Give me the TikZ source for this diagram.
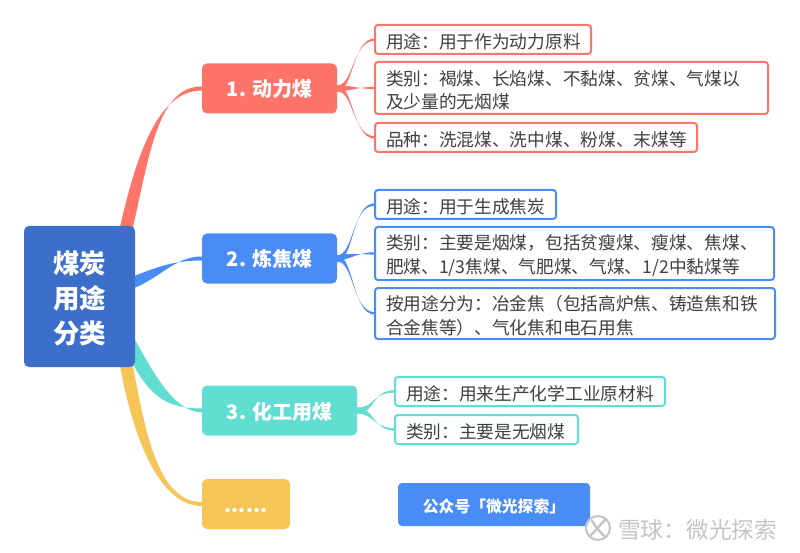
\documentclass[tikz,border=0pt]{standalone}
\usepackage{fontspec}
\setmainfont{Noto Sans CJK SC}
\usetikzlibrary{calc,backgrounds}
\definecolor{cred}{HTML}{FF7468}
\definecolor{cblue}{HTML}{4A8CF5}
\definecolor{croot}{HTML}{3B6FC9}
\definecolor{cteal}{HTML}{62DDD2}
\definecolor{cyel}{HTML}{F6C557}
\definecolor{ctext}{HTML}{404040}
\definecolor{cwm}{HTML}{C4C4C4}
\tikzset{
  boxbase/.style={anchor=north west,rounded corners=5,inner sep=0,outer sep=0,align=center},
  rootbox/.style={boxbase,fill=croot,text=white,font=\fontsize{26.5}{35}\selectfont\bfseries,minimum width=111,minimum height=141},
  mainbox/.style={boxbase,fill=#1,text=white,font=\fontsize{20}{24}\selectfont\bfseries,minimum height=50,text height=19,text depth=2},
  leafbox/.style={anchor=north west,draw=#1,line width=2,rounded corners=3,inner xsep=11,inner ysep=0,outer sep=0,fill=white,text=ctext,align=left,font=\fontsize{17.7}{23.6}\selectfont},
  badgebox/.style={boxbase,fill=cblue,text=white,font=\fontsize{15.8}{18}\selectfont\bfseries,minimum width=192,minimum height=43,rounded corners=4,text height=16,text depth=1},
  wmark/.style={text=cwm,font=\fontsize{22.7}{24}\selectfont,inner sep=0,anchor=west},
}
% from, to, colour, start half-offset, end half-thickness, control 1, control 2
\newcommand\taperlink[7]{%
  \fill[#3] ($(#1)+(#4)$) .. controls ($(#6)+(#4)$) and ($(#7)+(0,-#5)$) .. ($(#2)+(0,-#5)$)
    -- ($(#2)+(0,#5)$) .. controls ($(#7)+(0,#5)$) and ($(#6)-(#4)$) .. ($(#1)-(#4)$) -- cycle;}
\newcommand\leaf[7]{% name,colour,x,y,w,h,text
  \node[leafbox=#2,text width=#5pt-24pt,minimum height=#6-2] (#1) at (#3+1,#4+1)
    {\rule{0pt}{19.5pt}#7};}
\begin{document}
\begin{tikzpicture}[x=1pt,y=-1pt]
\useasboundingbox (0,0) rectangle (800,553);
\node[rootbox] (root) at (24,226) {\rule{0pt}{26pt}煤炭\\用途\\分类};
\node[mainbox=cred,minimum width=135] (n1) at (202,63.5) {1. 动力煤};
\node[mainbox=cblue,minimum width=135] (n2) at (202,233.5) {2. 炼焦煤};
\node[mainbox=cteal,minimum width=155] (n3) at (202,385.5) {3. 化工用煤};
\node[mainbox=cyel,minimum width=88] (n4) at (202,479) {......};
\leaf{a1}{cred}{374}{24}{218}{31}{用途：用于作为动力原料}
\leaf{a2}{cred}{374}{61}{395}{54}{类别：褐煤、长焰煤、不黏煤、贫煤、气煤以\\及少量的无烟煤}
\leaf{a3}{cred}{374}{122}{324}{31}{品种：洗混煤、洗中煤、粉煤、末煤等}
\leaf{b1}{cblue}{374}{189}{183}{31}{用途：用于生成焦炭}
\leaf{b2}{cblue}{374}{226}{401}{55}{类别：主要是烟煤，包括贫瘦煤、瘦煤、焦煤、\\肥煤、1/3焦煤、气肥煤、气煤、1/2中黏煤等}
\leaf{b3}{cblue}{374}{287}{402}{53}{按用途分为：冶金焦（包括高炉焦、铸造焦和铁\\合金焦等）、气化焦和电石用焦}
\leaf{c1}{cteal}{394}{376}{272}{31}{用途：用来生产化学工业原材料}
\leaf{c2}{cteal}{394}{414}{185}{31}{类别：主要是无烟煤}
\node[badgebox] (badge) at (398,483) {公众号「微光探索」};
\begin{scope}[on background layer]
\coordinate (r1) at ($(root.north east)+(-8.5,1)$);
\coordinate (r2) at ($(root.east)+(-1,-14.5)$);
\coordinate (r3) at ($(root.east)+(-1,55.5)$);
\coordinate (r4) at ($(root.south east)+(-8.5,-1)$);
\taperlink{r1}{n1.west}{cred}{6.5,0}{2}{143,155}{158,88}
\taperlink{r2}{n2.west}{cblue}{0,6}{2}{160,272}{175,258.5}
\taperlink{r3}{n3.west}{cteal}{0,14}{2}{155,390}{175,410}
\taperlink{r4}{n4.west}{cyel}{6.5,0}{2}{140,440}{160,504}
\taperlink{n1.east}{a1.west}{cred}{0,3}{1.2}{354,88}{352,40}
\taperlink{n1.east}{a2.west}{cred}{0,3}{1.2}{350,88}{360,88}
\taperlink{n1.east}{a3.west}{cred}{0,3}{1.2}{354,88}{352,137}
\taperlink{n2.east}{b1.west}{cblue}{0,3}{1.2}{354,258}{352,204}
\taperlink{n2.east}{b2.west}{cblue}{0,3}{1.2}{350,256}{360,253}
\taperlink{n2.east}{b3.west}{cblue}{0,3}{1.2}{354,258}{352,313}
\taperlink{n3.east}{c1.west}{cteal}{0,3}{1.2}{375,411}{372,391}
\taperlink{n3.east}{c2.west}{cteal}{0,3}{1.2}{375,411}{372,429}
\end{scope}
% watermark
\fill[white,opacity=.85] (598,528) circle (13);
\draw[cwm,line width=2] (598,528) circle (12);
\draw[cwm,line width=2.4,line cap=round] (592,521) .. controls (596,527) and (600,532) .. (604,536);
\draw[cwm,line width=2.4,line cap=round] (605,520) .. controls (600,525) and (597,529) .. (591,535);
\node[wmark] (wm) at (618,530) {雪球：微光探索};
\end{tikzpicture}
\end{document}
